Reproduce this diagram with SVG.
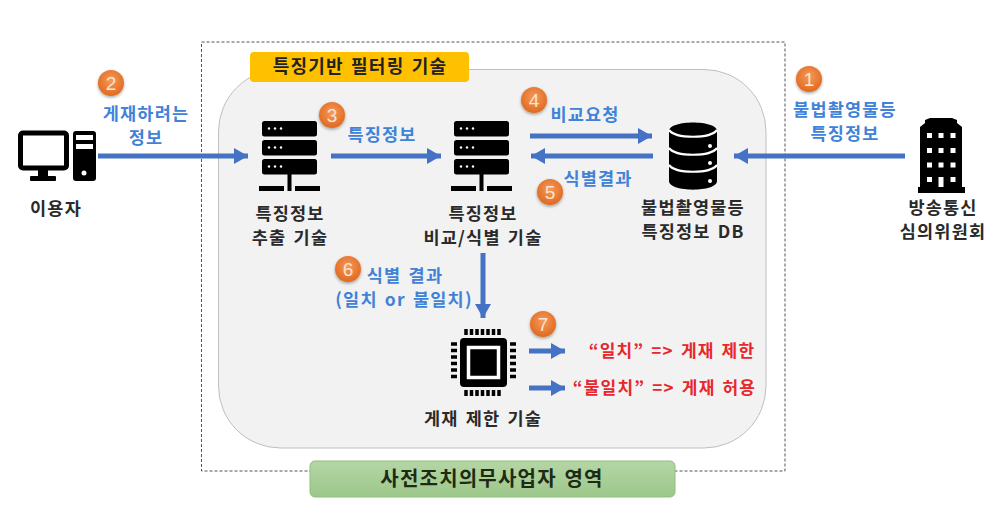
<svg xmlns="http://www.w3.org/2000/svg" width="1003" height="528" viewBox="0 0 1003 528">
<style>
text{font-family:"Noto Sans CJK KR","Noto Sans",sans-serif;text-anchor:middle;font-weight:700;letter-spacing:1.200px;word-spacing:2px}
.k{font-size:17.500px;fill:#2a2a2a}
.b{font-size:17.500px;fill:#3f82d8}
.r{font-size:17px;fill:#e8262e;font-weight:700}
.n{font-size:19px;fill:#fde3cf;font-family:"Liberation Sans",sans-serif;font-weight:400;letter-spacing:0}
.a{stroke:#4472c4;stroke-width:5;fill:none;marker-end:url(#ah)}
.c{fill:url(#og);filter:url(#sh)}
</style>
<defs>
<marker id="ah" markerUnits="userSpaceOnUse" markerWidth="16" markerHeight="18" refX="14" refY="8" orient="auto"><path d="M0 0L14 8L0 16Z" fill="#4472c4"/></marker>
<radialGradient id="og" cx="50%" cy="40%" r="60%"><stop offset="0" stop-color="#f49a5a"/><stop offset="1" stop-color="#e0691f"/></radialGradient>
<filter id="sh" x="-30%" y="-30%" width="160%" height="160%"><feDropShadow dx="0" dy="1.5" stdDeviation="1.5" flood-color="#000" flood-opacity=".35"/></filter>
<linearGradient id="gg" x1="0" y1="0" x2="0" y2="1"><stop offset="0" stop-color="#b5d6a5"/><stop offset="1" stop-color="#9cc78a"/></linearGradient>
<symbol id="srv" viewBox="0 0 62 72" width="62" height="72" overflow="visible">
<rect x="3" y="1" width="55" height="15.500" rx="2.500"/><rect x="3" y="20" width="55" height="15.500" rx="2.500"/><rect x="3" y="39" width="55" height="15.500" rx="2.500"/>
<g fill="#fff"><circle cx="10" cy="8.500" r="1.200"/><circle cx="16" cy="8.500" r="1.200"/><circle cx="22" cy="8.500" r="1.200"/><circle cx="10" cy="27.500" r="1.200"/><circle cx="16" cy="27.500" r="1.200"/><circle cx="22" cy="27.500" r="1.200"/><circle cx="10" cy="46.500" r="1.200"/><circle cx="16" cy="46.500" r="1.200"/><circle cx="22" cy="46.500" r="1.200"/></g>
<rect x="28.500" y="54" width="4" height="12"/><rect x="0" y="66" width="25" height="5"/><rect x="28.500" y="66" width="4" height="5"/><rect x="36" y="66" width="25" height="5"/>
</symbol>
</defs>
<rect width="1003" height="528" fill="#fff"/>
<rect id="region" x="201.500" y="42" width="583.500" height="429" fill="none" stroke="#555" stroke-width="1" stroke-dasharray="3 2"/>
<rect id="panel" x="218.500" y="69.500" width="547.500" height="378.500" rx="62" fill="#f2f2f2" stroke="#bfbfbf" stroke-width="1"/>
<g id="label-top"><rect x="250" y="52" width="219" height="30" rx="4" fill="#ffc000"/><text x="360" y="73" style="font-size:18px;fill:#222">특징기반 필터링 기술</text></g>
<g id="label-bottom"><rect x="310" y="461" width="365" height="36" rx="5" fill="url(#gg)" stroke="#8fbf7c" stroke-width="1"/><text x="492" y="486" style="font-size:20px;fill:#1d2b14">사전조치의무사업자 영역</text></g>
<g id="connectors">
<path class="a" d="M98 156H248"/>
<path class="a" d="M331 156H441"/>
<path class="a" d="M530 136H652"/>
<path class="a" d="M653 156H531"/>
<path class="a" d="M905 156H734"/>
<path class="a" d="M483 253V318"/>
<path class="a" d="M529 351H565"/>
<path class="a" d="M529 388H565"/>
</g>
<g id="user">
<rect x="20.500" y="133" width="46" height="35" rx="2.500" fill="#fff" stroke="#000" stroke-width="5"/>
<rect x="38" y="170" width="10" height="7"/><rect x="30" y="176" width="26" height="5" rx="1"/>
<rect x="73" y="131" width="23" height="50" rx="3"/><rect x="76" y="135" width="17" height="5" fill="#fff"/><rect x="76" y="144" width="17" height="5" fill="#fff"/><circle cx="84" cy="173" r="2.500" fill="#fff"/>
<text class="k" x="56" y="215">이용자</text>
</g>
<g id="extract">
<use href="#srv" x="259" y="120"/>
<text class="k" x="290" y="220">특징정보</text><text class="k" x="290" y="244">추출 기술</text>
</g>
<g id="compare">
<use href="#srv" x="451" y="120"/>
<text class="k" x="483" y="220">특징정보</text><text class="k" x="483" y="244">비교/식별 기술</text>
</g>
<g id="db">
<path d="M669 131C669 119.500 717 119.500 717 131V181C717 192.500 669 192.500 669 181Z"/>
<path d="M669 130C676 139 710 139 717 130M669 148C676 157 710 157 717 148M669 165C676 174 710 174 717 165" fill="none" stroke="#fff" stroke-width="2.200"/>
<g fill="#fff"><circle cx="710" cy="146" r="2"/><circle cx="710" cy="163" r="2"/><circle cx="710" cy="181" r="2"/></g>
<text class="k" x="693" y="214">불법촬영물등</text><text class="k" x="693" y="238">특징정보 DB</text>
</g>
<g id="building">
<path d="M920 188V127L925 123V120L930 118H952L957 120V123L962 127V188Z"/>
<rect x="918" y="187" width="47" height="6"/>
<g fill="#fff"><rect x="927" y="133" width="5" height="5"/><rect x="938.500" y="133" width="5" height="5"/><rect x="950.500" y="133" width="5" height="5"/><rect x="927" y="148" width="5" height="5"/><rect x="938.500" y="148" width="5" height="5"/><rect x="950.500" y="148" width="5" height="5"/><rect x="927" y="162.500" width="5" height="5"/><rect x="938.500" y="162.500" width="5" height="5"/><rect x="950.500" y="162.500" width="5" height="5"/><rect x="927" y="177" width="5" height="5"/><rect x="938.500" y="177" width="5" height="10"/><rect x="950.500" y="177" width="5" height="5"/></g>
<text class="k" x="943" y="214">방송통신</text><text class="k" x="943" y="238">심의위원회</text>
</g>
<g id="chip">
<rect x="460" y="338" width="47" height="49" rx="4"/>
<rect x="468.500" y="347.500" width="30" height="30" fill="#000" stroke="#fff" stroke-width="3.500"/>
<path d="M466 329v6M471.500 329v6M477 329v6M482.500 329v6M488 329v6M493.500 329v6M499 329v6M466 390v6M471.500 390v6M477 390v6M482.500 390v6M488 390v6M493.500 390v6M499 390v6" stroke="#000" stroke-width="3.500"/>
<path d="M451 344h6M451 350.500h6M451 357h6M451 363.500h6M451 370h6M451 376.500h6M510 344h6M510 350.500h6M510 357h6M510 363.500h6M510 370h6M510 376.500h6" stroke="#000" stroke-width="3.500"/>
<text class="k" x="483" y="425">게재 제한 기술</text>
</g>
<g id="labels">
<text class="b" x="146" y="120">게재하려는</text><text class="b" x="146" y="144">정보</text>
<text class="b" x="382" y="141">특징정보</text>
<text class="b" x="585" y="121">비교요청</text>
<text class="b" x="598" y="185">식별결과</text>
<text class="b" x="405" y="282">식별 결과</text><text class="b" x="404" y="306">(일치 or 불일치)</text>
<text class="b" x="845" y="116">불법촬영물등</text><text class="b" x="845" y="140">특징정보</text>
<text class="r" x="672" y="357">“일치” =&gt; 게재 제한</text>
<text class="r" x="664.500" y="394">“불일치” =&gt; 게재 허용</text>
</g>
<g id="badges">
<circle class="c" cx="809" cy="79" r="13"/><text class="n" x="809" y="86">1</text>
<circle class="c" cx="111" cy="83" r="13"/><text class="n" x="111" y="90">2</text>
<circle class="c" cx="332" cy="115" r="13"/><text class="n" x="332" y="122">3</text>
<circle class="c" cx="534" cy="100" r="13"/><text class="n" x="534" y="107">4</text>
<circle class="c" cx="550" cy="192" r="13"/><text class="n" x="550" y="199">5</text>
<circle class="c" cx="348" cy="269" r="13"/><text class="n" x="348" y="276">6</text>
<circle class="c" cx="543" cy="324" r="13"/><text class="n" x="543" y="331">7</text>
</g>
</svg>
